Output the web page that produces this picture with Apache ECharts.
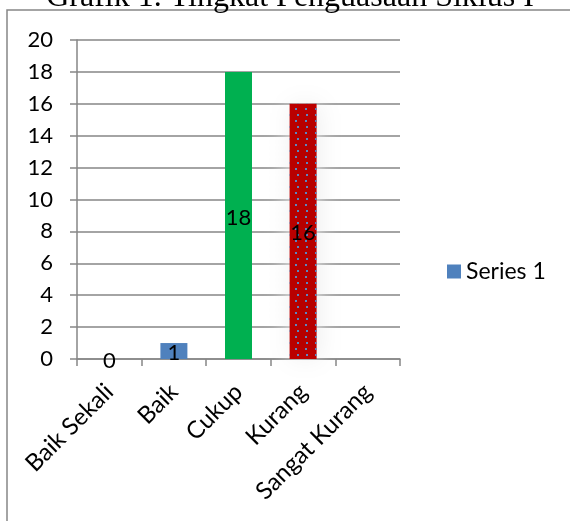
<!DOCTYPE html>
<html>
<head>
<meta charset="utf-8">
<script src="https://cdn.jsdelivr.net/npm/echarts@6/dist/echarts.min.js"></script>
<style>
  html, body { margin: 0; padding: 0; background: #fff; }
  #chart { width: 570px; height: 521px; }
</style>
</head>
<body>
<div id="chart"></div>
<script>
// data
const categories = ['Baik Sekali', 'Baik', 'Cukup', 'Kurang', 'Sangat Kurang'];
const values = [0, 1, 18, 16, null];
const yTicks = { min: 0, max: 20, interval: 2 };

const font = 'Lato, "Open Sans", sans-serif';
const blue = '#4F81BD';

const chart = echarts.init(document.getElementById('chart'));

const barData = values.map((v, i) => {
  if (categories[i] === 'Cukup') {
    return { value: v, itemStyle: { color: '#00B050' } };
  }
  if (categories[i] === 'Kurang') {
    return {
      value: v,
      itemStyle: {
        color: '#C00000',
        shadowColor: '#ffffff',
        shadowBlur: 25,
        decal: {
          symbol: 'rect',
          symbolSize: 1,
          color: '#5B86C0',
          dashArrayX: [[1.5, 7], [0, 4.25, 1.5, 2.75]],
          dashArrayY: [1.5, 3.5],
          rotation: 0
        }
      }
    };
  }
  return v;
});

const option = {
  animation: false,
  backgroundColor: '#fff',
  graphic: [
    {
      type: 'rect',
      shape: { x: 7, y: 10, width: 800, height: 800 },
      style: { fill: 'none', stroke: '#868686', lineWidth: 1.5 },
      silent: true
    },
    {
      type: 'text',
      x: 290,
      y: -2,
      style: {
        text: 'Grafik 1. Tingkat Penguasaan Siklus I',
        font: '32px "Liberation Serif", "Times New Roman", serif',
        fill: '#000',
        textAlign: 'center',
        textVerticalAlign: 'middle'
      }
    }
  ],
  legend: {
    data: ['Series 1'],
    left: 442,
    top: 255,
    itemWidth: 14,
    itemHeight: 14,
    itemGap: 6,
    icon: 'rect',
    textStyle: { fontFamily: font, fontSize: 23, color: '#000' }
  },
  grid: { left: 77, right: 170, top: 40, bottom: 162, containLabel: false },
  xAxis: {
    type: 'category',
    data: categories,
    axisLine: { lineStyle: { color: '#868686', width: 1.5 } },
    axisTick: { show: true, length: 7, lineStyle: { color: '#868686', width: 1.5 } },
    axisLabel: {
      rotate: 45,
      margin: 29,
      interval: 0,
      padding: [20, 0, 0, 0],
      fontFamily: font,
      fontSize: 24,
      color: '#000'
    }
  },
  yAxis: {
    type: 'value',
    min: yTicks.min,
    max: yTicks.max,
    interval: yTicks.interval,
    axisLine: { show: true, lineStyle: { color: '#868686', width: 1.5 } },
    axisTick: { show: true, length: 7, lineStyle: { color: '#868686', width: 1.5 } },
    splitLine: { lineStyle: { color: '#868686', width: 1.5 } },
    axisLabel: { margin: 24, fontFamily: font, fontSize: 22, color: '#000' }
  },
  series: [
    {
      name: 'Series 1',
      type: 'bar',
      barWidth: 27,
      itemStyle: { color: blue },
      label: {
        show: true,
        position: 'inside',
        offset: [0, 2],
        fontFamily: font,
        fontSize: 22,
        color: '#000'
      },
      data: barData
    }
  ]
};

chart.setOption(option);
</script>
</body>
</html>
